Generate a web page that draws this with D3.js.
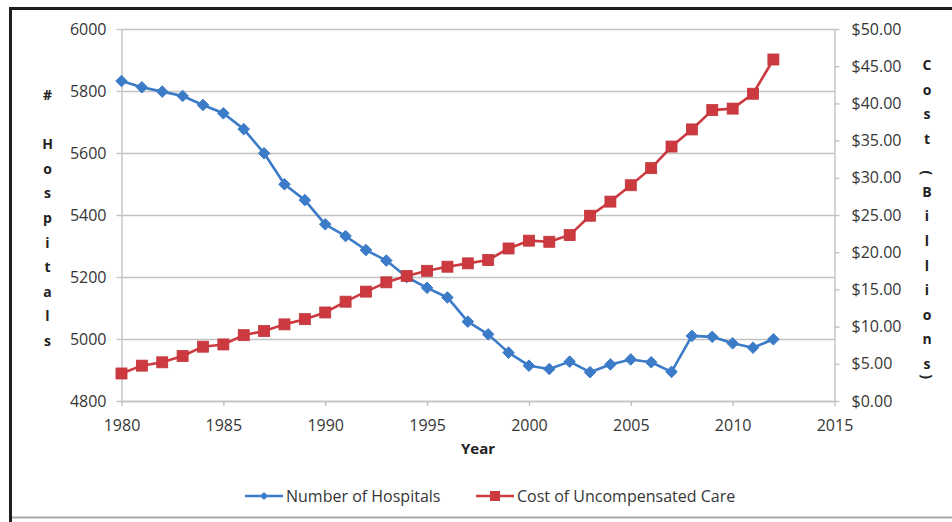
<!DOCTYPE html>
<html>
<head>
<meta charset="utf-8">
<script src="https://cdn.jsdelivr.net/npm/d3@7"></script>
<style>
  html, body { margin: 0; padding: 0; background: #fff; }
  svg { display: block; font-family: "Open Sans", Lato, sans-serif; }
</style>
</head>
<body>
<svg id="chart" width="952" height="522"></svg>
<script>
// Years 1980–2012
const years = d3.range(1980, 2013);

// Number of hospitals (left axis)
const hospitals = [5832, 5812, 5798, 5784, 5755, 5728, 5677, 5599, 5499, 5448,
                   5370, 5332, 5287, 5253, 5200, 5165, 5134, 5056, 5015, 4956,
                   4914, 4903, 4927, 4893, 4918, 4934, 4925, 4894, 5010, 5007,
                   4986, 4972, 4999];

// Cost of uncompensated care, billions of dollars (right axis)
const costs = [3.7, 4.75, 5.2, 6.05, 7.3, 7.6, 8.85, 9.4, 10.3, 11.0,
               11.9, 13.35, 14.7, 15.95, 16.8, 17.5, 18.05, 18.5, 18.95, 20.5,
               21.55, 21.4, 22.3, 24.9, 26.8, 29.0, 31.3, 34.2, 36.5, 39.1,
               39.3, 41.3, 45.9];

const yearTicks = [1980, 1985, 1990, 1995, 2000, 2005, 2010, 2015];
const hospitalTicks = [4800, 5000, 5200, 5400, 5600, 5800, 6000];
const costTicks = [0, 5, 10, 15, 20, 25, 30, 35, 40, 45, 50];

const seriesNames = ["Number of Hospitals", "Cost of Uncompensated Care"];
const xTitle = "Year";
const leftTitle = "# Hospitals";
const rightTitle = "Cost (Billions)";

const BLUE = "#3b7bc8";
const RED = "#cc3a40";
const GRID = "#c2c2c2";
const TEXT = "#363636";
const FONT = "'Open Sans', Lato, sans-serif";

const svg = d3.select("#chart");

// Outer frame
svg.append("line").attr("x1", 10).attr("x2", 952).attr("y1", 8.5).attr("y2", 8.5)
  .attr("stroke", "#1e1e1e").attr("stroke-width", 3);
svg.append("line").attr("x1", 10.5).attr("x2", 10.5).attr("y1", 7).attr("y2", 522)
  .attr("stroke", "#1e1e1e").attr("stroke-width", 3);
svg.append("line").attr("x1", 12).attr("x2", 952).attr("y1", 517.5).attr("y2", 517.5)
  .attr("stroke", "#a8a8a8").attr("stroke-width", 2);

const x = d3.scaleLinear().domain([1980, 2015]).range([121.5, 834.5]);
const yL = d3.scaleLinear().domain([4800, 6000]).range([401, 29]);
const yR = d3.scaleLinear().domain([0, 50]).range([401, 29]);

// Horizontal gridlines
svg.append("g").selectAll("line").data(hospitalTicks).join("line")
  .attr("x1", x(1980)).attr("x2", x(2015))
  .attr("y1", d => Math.round(yL(d)) + 0.5).attr("y2", d => Math.round(yL(d)) + 0.5)
  .attr("stroke", GRID).attr("stroke-width", 1.4);

function styleAxis(g) {
  g.select(".domain").attr("stroke", GRID).attr("stroke-width", 1.4);
  g.selectAll(".tick line").attr("stroke", GRID).attr("stroke-width", 1.4);
  g.selectAll(".tick text").attr("fill", TEXT).style("font-size", "16px")
    .style("font-family", FONT);
}

// Left axis
svg.append("g").attr("transform", `translate(${x(1980)},0)`)
  .call(d3.axisLeft(yL).tickValues(hospitalTicks).tickSize(5).tickPadding(10)
    .tickFormat(d3.format("d")).tickSizeOuter(0))
  .call(styleAxis);

// Right axis
svg.append("g").attr("transform", `translate(${x(2015)},0)`)
  .call(d3.axisRight(yR).tickValues(costTicks).tickSize(5).tickPadding(12)
    .tickFormat(d => "$" + d.toFixed(2)).tickSizeOuter(0))
  .call(styleAxis);

// Bottom axis
svg.append("g").attr("transform", `translate(0,${yL(4800)})`)
  .call(d3.axisBottom(x).tickValues(yearTicks).tickSize(5).tickPadding(14)
    .tickFormat(d3.format("d")).tickSizeOuter(0))
  .call(styleAxis);

// Axis titles
svg.append("text").attr("x", x(1997.5)).attr("y", 454)
  .attr("text-anchor", "middle").attr("fill", "#222")
  .style("font-size", "15px").style("font-weight", "bold").text(xTitle);

// Letters stacked top to bottom; parentheses turned sideways
function stackedTitle(str, cx, y0, step) {
  const t = svg.append("text").attr("fill", "#222").attr("text-anchor", "middle")
    .style("font-size", "14px").style("font-weight", "bold");
  let y = y0;
  for (const ch of str) {
    if (ch === " ") { y += str.includes("(") ? 9.4 : step; continue; }
    if (ch === "(" || ch === ")") {
      const py = ch === "(" ? y - 5 : y - 17;
      svg.append("text").attr("fill", "#222").attr("text-anchor", "middle")
        .style("font-size", "14px").style("font-weight", "bold")
        .attr("transform", `translate(${cx},${py}) rotate(90)`)
        .attr("dy", "0.35em").text(ch);
      y += ch === "(" ? 19 : step;
      continue;
    }
    t.append("tspan").attr("x", cx).attr("y", y).text(ch);
    y += step;
  }
}
stackedTitle(leftTitle, 47.5, 100, 24.6);
stackedTitle(rightTitle, 927, 70, 24.6);

// Series lines and markers
const lineH = d3.line().x((d, i) => x(years[i])).y(d => yL(d));
const lineC = d3.line().x((d, i) => x(years[i])).y(d => yR(d));

svg.append("path").datum(hospitals).attr("d", lineH)
  .attr("fill", "none").attr("stroke", BLUE).attr("stroke-width", 2.6)
  .attr("stroke-linejoin", "round");
const diamond = d3.symbol().type(d3.symbolDiamond2).size(85);
svg.append("g").selectAll("path").data(hospitals).join("path")
  .attr("transform", (d, i) => `translate(${x(years[i])},${yL(d)})`)
  .attr("d", diamond).attr("fill", BLUE).attr("stroke", BLUE).attr("stroke-width", 1);

svg.append("path").datum(costs).attr("d", lineC)
  .attr("fill", "none").attr("stroke", RED).attr("stroke-width", 2.6)
  .attr("stroke-linejoin", "round");
svg.append("g").selectAll("rect").data(costs).join("rect")
  .attr("x", (d, i) => x(years[i]) - 5.5).attr("y", d => yR(d) - 5.5)
  .attr("width", 11).attr("height", 11)
  .attr("fill", RED).attr("stroke", "#c2343a").attr("stroke-width", 0.8);

// Legend
const legend = svg.append("g").attr("transform", "translate(0,496)");
const items = [
  { name: seriesNames[0], color: BLUE, x0: 245, shape: "diamond" },
  { name: seriesNames[1], color: RED, x0: 476, shape: "square" }
];
items.forEach(it => {
  legend.append("line").attr("x1", it.x0).attr("x2", it.x0 + 38)
    .attr("y1", 0).attr("y2", 0).attr("stroke", it.color).attr("stroke-width", 2.6);
  if (it.shape === "diamond") {
    legend.append("path").attr("transform", `translate(${it.x0 + 19},0)`)
      .attr("d", d3.symbol().type(d3.symbolDiamond2).size(40)).attr("fill", it.color);
  } else {
    legend.append("rect").attr("x", it.x0 + 19 - 5).attr("y", -5)
      .attr("width", 10).attr("height", 10).attr("fill", it.color);
  }
  legend.append("text").attr("x", it.x0 + 41).attr("y", 0).attr("dy", "0.35em")
    .attr("fill", TEXT).style("font-size", "16px").style("font-family", FONT).text(it.name);
});
</script>
</body>
</html>
